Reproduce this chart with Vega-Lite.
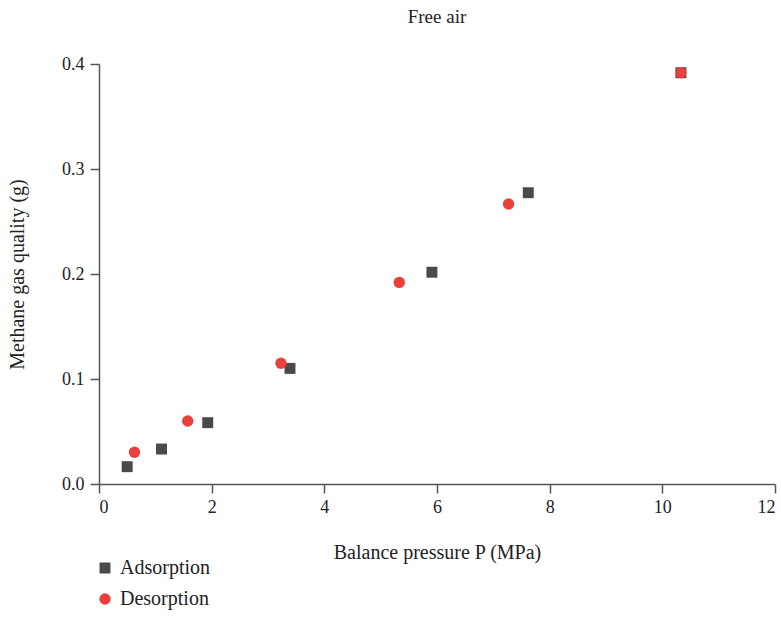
{
  "$schema": "https://vega.github.io/schema/vega-lite/v6.json",
  "autosize": {"type": "none"},
  "width": 676,
  "height": 420,
  "padding": {"left": 99, "top": 64, "right": 6, "bottom": 156},
  "background": "white",
  "title": {"text": "Free air", "font": "Liberation Serif, Times New Roman, serif", "fontSize": 19, "fontWeight": "normal", "color": "#222", "anchor": "middle", "offset": 28},
  "data": {"values": [
    {"series": "Adsorption", "P": 0.50, "m": 0.0165},
    {"series": "Adsorption", "P": 1.11, "m": 0.0333},
    {"series": "Adsorption", "P": 1.93, "m": 0.0584},
    {"series": "Adsorption", "P": 3.39, "m": 0.1101},
    {"series": "Adsorption", "P": 5.91, "m": 0.2017},
    {"series": "Adsorption", "P": 7.62, "m": 0.2774},
    {"series": "Adsorption", "P": 10.33, "m": 0.3917},
    {"series": "Desorption", "P": 0.63, "m": 0.0302},
    {"series": "Desorption", "P": 1.575, "m": 0.060},
    {"series": "Desorption", "P": 3.23, "m": 0.115},
    {"series": "Desorption", "P": 5.33, "m": 0.192},
    {"series": "Desorption", "P": 7.27, "m": 0.2667},
    {"series": "Desorption", "P": 10.33, "m": 0.3917}
  ]},
  "mark": {"type": "point", "filled": true, "opacity": 1},
  "encoding": {
    "x": {"field": "P", "type": "quantitative", "title": "Balance pressure P (MPa)",
      "scale": {"domain": [0, 12], "nice": false, "zero": false},
      "axis": {"values": [0, 2, 4, 6, 8, 10, 12], "grid": false, "format": "d", "labelPadding": 5, "titlePadding": 26}},
    "y": {"field": "m", "type": "quantitative", "title": "Methane gas quality (g)",
      "scale": {"domain": [0, 0.4], "nice": false},
      "axis": {"values": [0, 0.1, 0.2, 0.3, 0.4], "grid": false, "format": ".1f", "labelPadding": 6, "titlePadding": 34}},
    "color": {"field": "series", "type": "nominal", "scale": {"domain": ["Adsorption", "Desorption"], "range": ["#4a4a4a", "#e8413b"]},
      "legend": {"title": null, "orient": "none", "legendX": -4, "legendY": 494, "direction": "vertical", "rowPadding": 11, "labelFont": "Liberation Serif, Times New Roman, serif", "labelFontSize": 20, "labelColor": "#222", "symbolSize": 130, "labelOffset": 5}},
    "shape": {"field": "series", "type": "nominal", "scale": {"domain": ["Adsorption", "Desorption"], "range": ["square", "circle"]}, "legend": null},
    "size": {"field": "series", "type": "nominal", "scale": {"domain": ["Adsorption", "Desorption"], "range": [120, 130]}, "legend": null}
  },
  "config": {
    "view": {"stroke": null},
    "axis": {
      "domainColor": "#555", "domainWidth": 1.5, "tickColor": "#555", "tickWidth": 1.5, "tickSize": 9,
      "labelFont": "Liberation Serif, Times New Roman, serif", "labelFontSize": 18, "labelColor": "#222",
      "titleFont": "Liberation Serif, Times New Roman, serif", "titleFontSize": 20, "titleFontWeight": "normal", "titleColor": "#222"
    }
  }
}
